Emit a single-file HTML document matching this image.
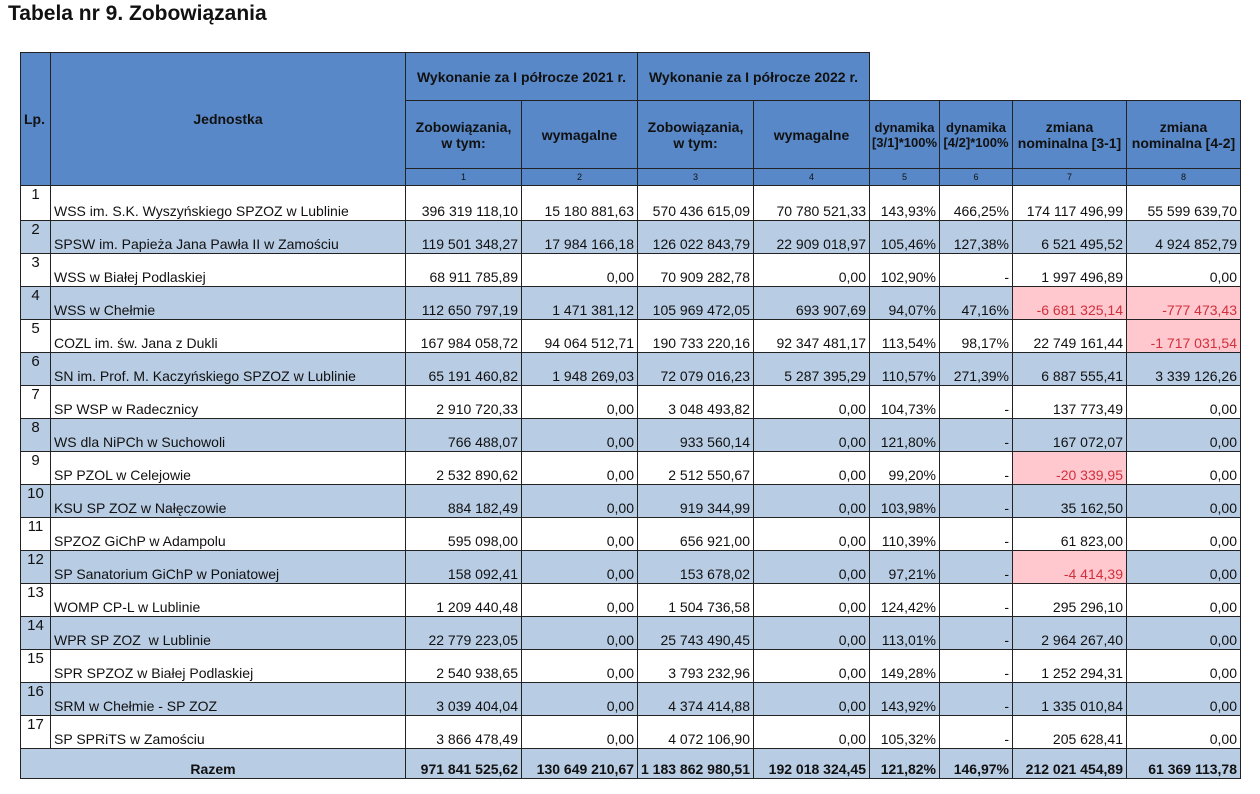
<!DOCTYPE html>
<html><head><meta charset="utf-8"><style>
body{margin:0;background:#fff;width:1260px;height:794px;overflow:hidden;font-family:"Liberation Sans",Arial,sans-serif;}
h1{position:absolute;left:8px;top:0;margin:0;font-size:21px;font-weight:bold;line-height:28px;color:#111;}
table{position:absolute;left:20px;top:52px;border-collapse:collapse;table-layout:fixed;}
td{border:1px solid #222;padding:0 3px;font-size:14px;color:#111;white-space:nowrap;overflow:hidden;}
.h td{background:#5888c8;font-weight:bold;text-align:center;font-size:14px;}
.h td.blank{background:#fff;border-top:none;border-right:none;}
.n td{height:16px;font-size:9px;font-weight:normal;}
tr.r td{height:31px;vertical-align:bottom;text-align:right;padding-bottom:1px;line-height:16px;}
tr.r td.lp{text-align:center;vertical-align:top;padding:1px 0 0 0;font-size:15px;}
tr.r td.nm{text-align:left;}
tr.s td{background:#b8cce4;}
td.red{background:#ffc7ce !important;color:#d0303c;}
tr.t td{height:28px;background:#b8cce4;font-weight:bold;vertical-align:bottom;text-align:right;padding-bottom:1px;line-height:16px;}
</style></head><body>
<h1>Tabela nr 9. Zobowiązania</h1>
<table>
<colgroup><col style="width:30px"><col style="width:355px"><col style="width:116px"><col style="width:116px"><col style="width:116px"><col style="width:116px"><col style="width:70px"><col style="width:73px"><col style="width:114px"><col style="width:114px"></colgroup>
<tr class="h" style="height:48px"><td rowspan="3" style="text-align:left">Lp.</td><td rowspan="3">Jednostka</td><td colspan="2">Wykonanie za I półrocze 2021 r.</td><td colspan="2">Wykonanie za I półrocze 2022 r.</td><td colspan="4" class="blank"></td></tr>
<tr class="h" style="height:68px"><td>Zobowiązania,<br>w tym:</td><td>wymagalne</td><td>Zobowiązania,<br>w tym:</td><td>wymagalne</td><td style="padding:0;font-size:13px">dynamika<br>[3/1]*100%</td><td style="padding:0;font-size:13px">dynamika<br>[4/2]*100%</td><td style="padding:0">zmiana<br>nominalna [3-1]</td><td style="padding:0">zmiana<br>nominalna [4-2]</td></tr>
<tr class="h n"><td>1</td><td>2</td><td>3</td><td>4</td><td>5</td><td>6</td><td>7</td><td>8</td></tr>
<tr class="r"><td class="lp" style="height:33px">1</td><td class="nm">WSS im. S.K. Wyszyńskiego SPZOZ w Lublinie</td><td>396 319 118,10</td><td>15 180 881,63</td><td>570 436 615,09</td><td>70 780 521,33</td><td>143,93%</td><td>466,25%</td><td>174 117 496,99</td><td>55 599 639,70</td></tr>
<tr class="r s"><td class="lp">2</td><td class="nm">SPSW im. Papieża Jana Pawła II w Zamościu</td><td>119 501 348,27</td><td>17 984 166,18</td><td>126 022 843,79</td><td>22 909 018,97</td><td>105,46%</td><td>127,38%</td><td>6 521 495,52</td><td>4 924 852,79</td></tr>
<tr class="r"><td class="lp">3</td><td class="nm">WSS w Białej Podlaskiej</td><td>68 911 785,89</td><td>0,00</td><td>70 909 282,78</td><td>0,00</td><td>102,90%</td><td>-</td><td>1 997 496,89</td><td>0,00</td></tr>
<tr class="r s"><td class="lp">4</td><td class="nm">WSS w Chełmie</td><td>112 650 797,19</td><td>1 471 381,12</td><td>105 969 472,05</td><td>693 907,69</td><td>94,07%</td><td>47,16%</td><td class="red">-6 681 325,14</td><td class="red">-777 473,43</td></tr>
<tr class="r"><td class="lp">5</td><td class="nm">COZL im. św. Jana z Dukli</td><td>167 984 058,72</td><td>94 064 512,71</td><td>190 733 220,16</td><td>92 347 481,17</td><td>113,54%</td><td>98,17%</td><td>22 749 161,44</td><td class="red">-1 717 031,54</td></tr>
<tr class="r s"><td class="lp">6</td><td class="nm">SN im. Prof. M. Kaczyńskiego SPZOZ w Lublinie</td><td>65 191 460,82</td><td>1 948 269,03</td><td>72 079 016,23</td><td>5 287 395,29</td><td>110,57%</td><td>271,39%</td><td>6 887 555,41</td><td>3 339 126,26</td></tr>
<tr class="r"><td class="lp">7</td><td class="nm">SP WSP w Radecznicy</td><td>2 910 720,33</td><td>0,00</td><td>3 048 493,82</td><td>0,00</td><td>104,73%</td><td>-</td><td>137 773,49</td><td>0,00</td></tr>
<tr class="r s"><td class="lp">8</td><td class="nm">WS dla NiPCh w Suchowoli</td><td>766 488,07</td><td>0,00</td><td>933 560,14</td><td>0,00</td><td>121,80%</td><td>-</td><td>167 072,07</td><td>0,00</td></tr>
<tr class="r"><td class="lp">9</td><td class="nm">SP PZOL w Celejowie</td><td>2 532 890,62</td><td>0,00</td><td>2 512 550,67</td><td>0,00</td><td>99,20%</td><td>-</td><td class="red">-20 339,95</td><td>0,00</td></tr>
<tr class="r s"><td class="lp">10</td><td class="nm">KSU SP ZOZ w Nałęczowie</td><td>884 182,49</td><td>0,00</td><td>919 344,99</td><td>0,00</td><td>103,98%</td><td>-</td><td>35 162,50</td><td>0,00</td></tr>
<tr class="r"><td class="lp">11</td><td class="nm">SPZOZ GiChP w Adampolu</td><td>595 098,00</td><td>0,00</td><td>656 921,00</td><td>0,00</td><td>110,39%</td><td>-</td><td>61 823,00</td><td>0,00</td></tr>
<tr class="r s"><td class="lp">12</td><td class="nm">SP Sanatorium GiChP w Poniatowej</td><td>158 092,41</td><td>0,00</td><td>153 678,02</td><td>0,00</td><td>97,21%</td><td>-</td><td class="red">-4 414,39</td><td>0,00</td></tr>
<tr class="r"><td class="lp">13</td><td class="nm">WOMP CP-L w Lublinie</td><td>1 209 440,48</td><td>0,00</td><td>1 504 736,58</td><td>0,00</td><td>124,42%</td><td>-</td><td>295 296,10</td><td>0,00</td></tr>
<tr class="r s"><td class="lp">14</td><td class="nm">WPR SP ZOZ &nbsp;w Lublinie</td><td>22 779 223,05</td><td>0,00</td><td>25 743 490,45</td><td>0,00</td><td>113,01%</td><td>-</td><td>2 964 267,40</td><td>0,00</td></tr>
<tr class="r"><td class="lp">15</td><td class="nm">SPR SPZOZ w Białej Podlaskiej</td><td>2 540 938,65</td><td>0,00</td><td>3 793 232,96</td><td>0,00</td><td>149,28%</td><td>-</td><td>1 252 294,31</td><td>0,00</td></tr>
<tr class="r s"><td class="lp">16</td><td class="nm">SRM w Chełmie - SP ZOZ</td><td>3 039 404,04</td><td>0,00</td><td>4 374 414,88</td><td>0,00</td><td>143,92%</td><td>-</td><td>1 335 010,84</td><td>0,00</td></tr>
<tr class="r"><td class="lp">17</td><td class="nm">SP SPRiTS w Zamościu</td><td>3 866 478,49</td><td>0,00</td><td>4 072 106,90</td><td>0,00</td><td>105,32%</td><td>-</td><td>205 628,41</td><td>0,00</td></tr>
<tr class="t"><td colspan="2" style="text-align:center">Razem</td><td>971 841 525,62</td><td>130 649 210,67</td><td>1 183 862 980,51</td><td>192 018 324,45</td><td>121,82%</td><td>146,97%</td><td>212 021 454,89</td><td>61 369 113,78</td></tr>
</table>
</body></html>
